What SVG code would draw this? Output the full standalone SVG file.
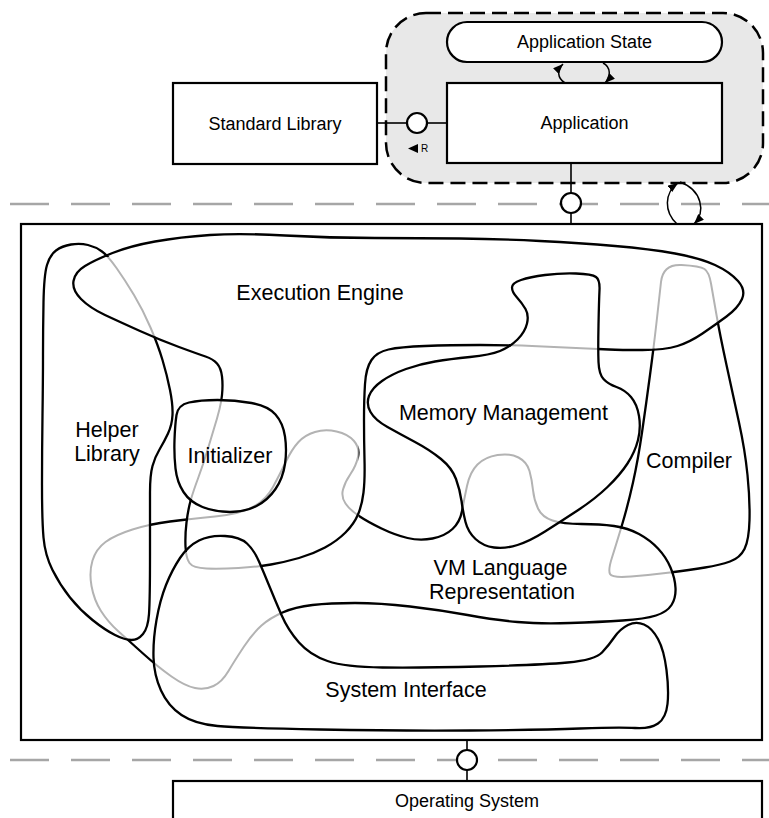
<svg xmlns="http://www.w3.org/2000/svg" xmlns:xlink="http://www.w3.org/1999/xlink" width="769" height="818" viewBox="0 0 769 818">
<style>
.box{fill:#fff;stroke:#000;stroke-width:2.2}
.blk{fill:none;stroke:#000;stroke-width:2.3;stroke-linejoin:round}
.gry{fill:none;stroke:#b3b3b3;stroke-width:2}
.lbl{font-family:"Liberation Sans",Arial,sans-serif;fill:#000;text-anchor:middle}
.big{font-size:21.5px}
.mid{font-size:18px}
.sep{fill:none;stroke:#a6a6a6;stroke-width:2.5;stroke-dasharray:39 22}
.ln{stroke:#000;stroke-width:1.6;fill:none}
.itf{fill:#fff;stroke:#000;stroke-width:2.2}
.arc{fill:none;stroke:#000;stroke-width:1.5}
</style>
<defs>
<marker id="ah" viewBox="0 0 10 8" refX="10" refY="4" markerWidth="10" markerHeight="8" markerUnits="userSpaceOnUse" orient="auto"><path d="M0,0 L10,4 L0,8 Z" fill="#000"/></marker>
<path id="p-ee" d="M105,315 Q90,308 81,299 Q72,290 73.5,281 Q75,272 85,266 Q95,260 112.5,253 Q130,246 155,241.5 Q180,237 210,235 Q240,233 285,235.5 Q330,238 375,238 Q420,238 460,238.5 Q500,239 540,241 Q580,243 615,246 Q650,249 675,253.5 Q700,258 715,265 Q730,272 738,281 Q746,290 742,299 Q738,308 726.5,316.5 Q715,325 702.5,333.5 Q690,342 677.5,346 Q665,350 642.5,350 Q620,350 609,349.5 Q598,349 576,348 Q554,347 532,346 Q510,345 480,345 Q450,345 425,346 Q400,347 388.5,349.5 Q377,352 371.5,360 Q366,368 365,384 Q364,400 364,420 Q364,440 364.5,460 Q365,480 363.5,492.5 Q362,505 358,514.5 Q354,524 345.5,532.5 Q337,541 325,547.5 Q313,554 299,558 Q285,562 271,564.5 Q257,567 238.5,568 Q220,569 206.5,568.5 Q193,568 189.5,563 Q186,558 185.5,546.5 Q185,535 186.5,522.5 Q188,510 190.5,501 Q193,492 198,478.5 Q203,465 208,448.5 Q213,432 217,418.5 Q221,405 222,395 Q223,385 222,376.5 Q221,368 217,363.5 Q213,359 205.5,356.5 Q198,354 179,347 Q160,340 140,331 Q120,322 105,315 Z"/>
<path id="p-hl" d="M43,355 Q43,330 43.5,302.5 Q44,275 47,265 Q50,255 56,250.5 Q62,246 71,244.5 Q80,243 88,245 Q96,247 102,251.5 Q108,256 116.5,268 Q125,280 134,295 Q143,310 150.5,327.5 Q158,345 162.5,360 Q167,375 170,390 Q173,405 172.5,415 Q172,425 168,433.5 Q164,442 159.5,449.5 Q155,457 152.5,466 Q150,475 150,492.5 Q150,510 150,555 Q150,600 149,614 Q148,628 143,634 Q138,640 131.5,640 Q125,640 115,635 Q105,630 92.5,620 Q80,610 70,597.5 Q60,585 52.5,570 Q45,555 43.5,537.5 Q42,520 42,485 Q42,450 42.5,415 Q43,380 43,355 Z"/>
<path id="p-vm" d="M552.5,520.5 Q563,524 581.5,524 Q600,524 614,526 Q628,528 639,534 Q650,540 658,548.5 Q666,557 670.5,567.5 Q675,578 675.5,588 Q676,598 671.5,605 Q667,612 656,615.5 Q645,619 622.5,620.5 Q600,622 570,623 Q540,624 517.5,622 Q495,620 467.5,615 Q440,610 410,606.5 Q380,603 355,603 Q330,603 312.5,605 Q295,607 282.5,612.5 Q270,618 261.5,625.5 Q253,633 244,646.5 Q235,660 228.5,671 Q222,682 213.5,686 Q205,690 195,688 Q185,686 171.5,676.5 Q158,667 143,653.5 Q128,640 118,631 Q108,622 101,611 Q94,600 91.5,586 Q89,572 92.5,560.5 Q96,549 105.5,542 Q115,535 132.5,529.5 Q150,524 170,521.5 Q190,519 215,516.5 Q240,514 253,507 Q266,500 273,487 Q280,474 286,461.5 Q292,449 298.5,442 Q305,435 315,432 Q325,429 336.5,431.5 Q348,434 354,441 Q360,448 358,457 Q356,466 350.5,474 Q345,482 343,489.5 Q341,497 345.5,503.5 Q350,510 359,516 Q368,522 381.5,528.5 Q395,535 407.5,538 Q420,541 432.5,538.5 Q445,536 452.5,529 Q460,522 462,511 Q464,500 467,486 Q470,472 477.5,464.5 Q485,457 497.5,455 Q510,453 518.5,457.5 Q527,462 529.5,471 Q532,480 533,490 Q534,500 538,508.5 Q542,517 552.5,520.5 Z"/>
<path id="p-co" d="M661,282 Q663,264 681.5,265 Q700,266 704.5,269 Q709,272 711,283.5 Q713,295 716.5,315 Q720,335 726.5,365 Q733,395 739,422.5 Q745,450 747.5,475 Q750,500 749.5,520 Q749,540 744.5,549 Q740,558 730,561.5 Q720,565 705,567.5 Q690,570 670,572.5 Q650,575 631,576.5 Q612,578 610,574 Q608,570 612,557.5 Q616,545 622,525 Q628,505 633,482.5 Q638,460 642,432.5 Q646,405 650,375 Q654,345 656.5,322.5 Q659,300 661,282 Z"/>
<clipPath id="c-ee"><rect x="511" y="335" width="87" height="25"/><rect x="178" y="552" width="83" height="30"/><rect x="183" y="401" width="47" height="98"/></clipPath>
<mask id="m-ee" maskUnits="userSpaceOnUse" x="0" y="0" width="769" height="818"><rect width="769" height="818" fill="#fff"/><rect x="511" y="335" width="87" height="25" fill="#000"/><rect x="178" y="552" width="83" height="30" fill="#000"/><rect x="183" y="401" width="47" height="98" fill="#000"/></mask>
<clipPath id="c-hl"><rect x="98" y="257" width="72" height="79.5"/></clipPath>
<mask id="m-hl" maskUnits="userSpaceOnUse" x="0" y="0" width="769" height="818"><rect width="769" height="818" fill="#fff"/><rect x="98" y="257" width="72" height="79.5" fill="#000"/></mask>
<clipPath id="c-vm"><rect x="463" y="440" width="96" height="89"/><rect x="187" y="420" width="171.5" height="104"/><rect x="80" y="520" width="70" height="119"/><rect x="155" y="600" width="125" height="100"/></clipPath>
<mask id="m-vm" maskUnits="userSpaceOnUse" x="0" y="0" width="769" height="818"><rect width="769" height="818" fill="#fff"/><rect x="463" y="440" width="96" height="89" fill="#000"/><rect x="187" y="420" width="171.5" height="104" fill="#000"/><rect x="80" y="520" width="70" height="119" fill="#000"/><rect x="155" y="600" width="125" height="100" fill="#000"/></mask>
<clipPath id="c-co"><polygon points="640,250 750,250 750,300 726.5,316.5 702.5,333.5 677.5,346 642.5,350 640,350"/><rect x="600" y="528.5" width="71.5" height="60"/></clipPath>
<mask id="m-co" maskUnits="userSpaceOnUse" x="0" y="0" width="769" height="818"><rect width="769" height="818" fill="#fff"/><polygon points="640,250 750,250 750,300 726.5,316.5 702.5,333.5 677.5,346 642.5,350 640,350" fill="#000"/><rect x="600" y="528.5" width="71.5" height="60" fill="#000"/></mask>
</defs>

<rect width="769" height="818" fill="#fff"/>

<g id="layer-separators">
<line class="sep" x1="10" y1="204" x2="769" y2="204"/>
<line class="sep" x1="10" y1="760" x2="769" y2="760"/>
</g>

<g id="application-context">
<rect x="386" y="13" width="377" height="170" rx="40" ry="40" fill="#e8e8e8" stroke="#000" stroke-width="2.5" stroke-dasharray="15 7"/>
</g>

<g id="application-state">
<rect class="box" x="447" y="22" width="275" height="40" rx="20" ry="20"/>
<text class="lbl mid" x="584.5" y="48">Application State</text>
</g>

<g id="application">
<rect class="box" x="447" y="83" width="275" height="80"/>
<text class="lbl mid" x="584.5" y="129">Application</text>
</g>

<g id="standard-library">
<rect class="box" x="173" y="83" width="204" height="81"/>
<text class="lbl mid" x="275" y="130">Standard Library</text>
</g>

<g id="virtual-machine">
<rect class="box" x="21" y="224" width="741" height="516" stroke-width="2.5"/>
</g>

<g id="operating-system">
<rect class="box" x="173" y="781" width="589" height="60"/>
<text class="lbl mid" x="467" y="807">Operating System</text>
</g>

<g id="hidden-edges">
<use xlink:href="#p-ee" class="gry" clip-path="url(#c-ee)"/>
<use xlink:href="#p-hl" class="gry" clip-path="url(#c-hl)"/>
<use xlink:href="#p-vm" class="gry" clip-path="url(#c-vm)"/>
<use xlink:href="#p-co" class="gry" clip-path="url(#c-co)"/>
</g>

<g id="execution-engine">
<use xlink:href="#p-ee" class="blk" mask="url(#m-ee)"/>
<text class="lbl big" x="320" y="300">Execution Engine</text>
</g>

<g id="helper-library">
<use xlink:href="#p-hl" class="blk" mask="url(#m-hl)"/>
<text class="lbl big" x="107" y="437">Helper</text>
<text class="lbl big" x="107" y="461">Library</text>
</g>

<g id="initializer">
<path class="blk" d="M176.5,415 Q178,405 189,402.5 Q200,400 217.5,400 Q235,400 251.5,403 Q268,406 275.5,414.5 Q283,423 285,436.5 Q287,450 285,464 Q283,478 275.5,489 Q268,500 256.5,506 Q245,512 230,512 Q215,512 202.5,507 Q190,502 183.5,492 Q177,482 175.5,468.5 Q174,455 174.5,440 Q175,425 176.5,415 Z"/>
<text class="lbl big" x="230" y="463">Initializer</text>
</g>

<g id="memory-management">
<path class="blk" d="M598.5,325 Q599,300 599.5,290 Q600,280 596,277 Q592,274 576,273.5 Q560,273 545,275 Q530,277 521,280 Q512,283 512,287.5 Q512,292 517,297.5 Q522,303 525.5,309 Q529,315 527,323.5 Q525,332 517.5,339.5 Q510,347 500,351 Q490,355 470,357 Q450,359 435,361.5 Q420,364 406,369 Q392,374 382,381 Q372,388 369,396 Q366,404 370.5,412 Q375,420 387.5,427 Q400,434 415,442 Q430,450 441,459 Q452,468 456,479 Q460,490 461.5,501 Q463,512 465.5,522 Q468,532 475.5,539 Q483,546 494,547.5 Q505,549 517.5,545 Q530,541 545,531.5 Q560,522 577.5,510.5 Q595,499 607.5,487 Q620,475 627.5,463.5 Q635,452 638,440 Q641,428 639,416 Q637,404 631,397 Q625,390 616.5,387 Q608,384 603.5,379 Q599,374 598.5,362 Q598,350 598.5,325 Z"/>
<text class="lbl big" x="503.5" y="420">Memory Management</text>
</g>

<g id="compiler">
<use xlink:href="#p-co" class="blk" mask="url(#m-co)"/>
<text class="lbl big" x="689" y="468">Compiler</text>
</g>

<g id="vm-language-representation">
<use xlink:href="#p-vm" class="blk" mask="url(#m-vm)"/>
<text class="lbl big" x="500.5" y="575">VM Language</text>
<text class="lbl big" x="502" y="599">Representation</text>
</g>

<g id="system-interface">
<path class="blk" d="M199,540.5 Q210,535 225,536 Q240,537 247,543.5 Q254,550 259,561.5 Q264,573 269.5,586.5 Q275,600 281.5,615 Q288,630 299,642.5 Q310,655 327.5,661 Q345,667 382.5,667.5 Q420,668 480,666.5 Q540,665 567.5,662.5 Q595,660 602,652.5 Q609,645 614.5,637 Q620,629 628,625 Q636,621 644,624.5 Q652,628 658,639 Q664,650 666.5,670 Q669,690 667.5,704 Q666,718 658,723.5 Q650,729 635,728 Q620,727 580,728.5 Q540,730 470,730.5 Q400,731 320,729.5 Q240,728 217.5,726 Q195,724 181.5,715 Q168,706 161,690.5 Q154,675 153.5,657.5 Q153,640 156.5,620 Q160,600 166,585 Q172,570 180,558 Q188,546 199,540.5 Z"/>
<text class="lbl big" x="406" y="697">System Interface</text>
</g>

<g id="connectors">
<line class="ln" x1="377" y1="123" x2="407" y2="123"/>
<line class="ln" x1="427" y1="123" x2="447" y2="123"/>
<circle class="itf" cx="417" cy="123" r="10"/>
<polygon points="408,148.5 418,144 418,153" fill="#000"/>
<text x="421" y="152" font-family="Liberation Sans, Arial, sans-serif" font-size="10">R</text>
<line class="ln" x1="571" y1="163" x2="571" y2="224"/>
<circle class="itf" cx="571" cy="203" r="10"/>
<line class="ln" x1="467" y1="740" x2="467" y2="781"/>
<circle class="itf" cx="467" cy="760" r="10"/>
<path class="arc" d="M565,83 C557,78 557,70 563,64" marker-end="url(#ah)"/>
<path class="arc" d="M603,63 C611,67 611,77 605,83" marker-end="url(#ah)"/>
<path class="arc" d="M677,224 C664,212 664,193 678,183" marker-end="url(#ah)"/>
<path class="arc" d="M680,182 C702,190 706,212 694,224" marker-end="url(#ah)"/>
</g>
</svg>
